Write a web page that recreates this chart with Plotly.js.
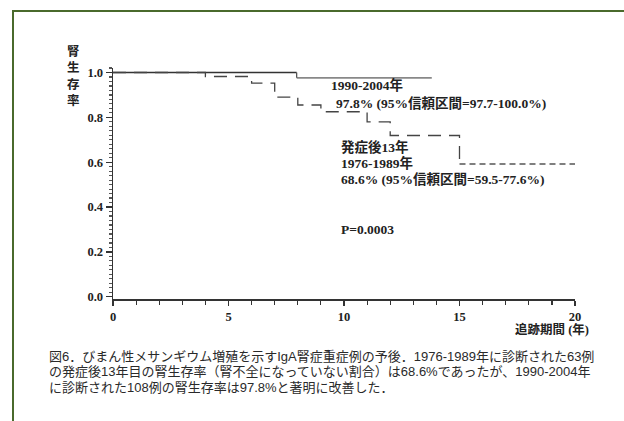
<!DOCTYPE html>
<html>
<head>
<meta charset="utf-8">
<script src="https://cdn.plot.ly/plotly-3.0.1.min.js"></script>
<style>
  html, body { margin: 0; padding: 0; background: #ffffff; }
  #wrap { position: relative; width: 624px; height: 421px; overflow: hidden; }
  #frame { position: absolute; left: 12px; top: 10px; width: 640px; height: 440px;
           border-top: 2px solid #4a6a2c; border-left: 2px solid #4a6a2c; box-sizing: border-box; }
  #chart { position: absolute; left: 0; top: 0; width: 624px; height: 421px; }
</style>
</head>
<body>
<div id="wrap">
  <div id="frame"></div>
  <div id="chart"></div>
</div>
<script>
// 1990-2004 cohort (solid)
const recentYears = [0, 7.95, 13.8];
const recentSurv  = [1.0, 0.976, 0.976];
// 1976-1989 cohort (dashed)
const earlyYears = [0, 4, 6, 7, 8, 9, 11, 12, 15, 20];
const earlySurv  = [1.0, 0.982, 0.953, 0.89, 0.855, 0.825, 0.78, 0.719, 0.592, 0.592];

const xTicks = [0, 5, 10, 15, 20];
const yTicks = [0, 0.2, 0.4, 0.6, 0.8, 1.0];
const yTickText = ['0.0', '0.2', '0.4', '0.6', '0.8', '1.0'];

const captionLines = [
  '図6．びまん性メサンギウム増殖を示すIgA腎症重症例の予後．1976-1989年に診断された63例',
  'の発症後13年目の腎生存率（腎不全になっていない割合）は68.6%であったが、1990-2004年',
  'に診断された108例の腎生存率は97.8%と著明に改善した．'
];

const serifCJK = 'Liberation Serif, Noto Sans CJK JP';
const sansCJK = 'Liberation Sans, Noto Sans CJK JP';

const nEarly = earlyYears.length;
const traces = [
  { x: recentYears.slice(0, 2), y: [recentSurv[0], recentSurv[0]], mode: 'lines', line: { color: '#333333', width: 1.3 }, hoverinfo: 'skip' },
  { x: recentYears.slice(1), y: recentSurv.slice(1), mode: 'lines', line: { shape: 'hv', color: '#888888', width: 1.8 }, hoverinfo: 'skip' },
  { x: recentYears.slice(1, 2).concat(recentYears.slice(1, 2)), y: recentSurv.slice(0, 2), mode: 'lines', line: { color: '#555555', width: 1.3 }, hoverinfo: 'skip' },
  { x: earlyYears.slice(0, nEarly - 1), y: earlySurv.slice(0, nEarly - 1), mode: 'lines',
    line: { shape: 'hv', color: '#444444', width: 1.3, dash: '13px,8px' }, hoverinfo: 'skip' },
  { x: earlyYears.slice(nEarly - 2), y: earlySurv.slice(nEarly - 2), mode: 'lines',
    line: { shape: 'hv', color: '#555555', width: 1.3, dash: '6px,4px' }, hoverinfo: 'skip' }
];

const tf = { family: serifCJK, size: 12.5, color: '#222222', weight: 'bold' };
const af = { family: serifCJK, size: 13.5, color: '#222222', weight: 'bold' };

const annotations = [
  { text: '1990-2004年', x: 9.35, y: 0.945, xanchor: 'left', yanchor: 'middle' },
  { text: '97.8% (95%信頼区間=97.7-100.0%)', x: 9.55, y: 0.864, xanchor: 'left', yanchor: 'middle' },
  { text: '発症後13年', x: 9.8, y: 0.67, xanchor: 'left', yanchor: 'middle' },
  { text: '1976-1989年', x: 9.8, y: 0.596, xanchor: 'left', yanchor: 'middle' },
  { text: '68.6% (95%信頼区間=59.5-77.6%)', x: 9.8, y: 0.526, xanchor: 'left', yanchor: 'middle' },
  { text: 'P=0.0003', x: 9.8, y: 0.30, xanchor: 'left', yanchor: 'middle' }
].map(a => Object.assign({ xref: 'x', yref: 'y', showarrow: false, font: af }, a));

annotations.push({
  text: '腎<br>生<br>存<br>率', xref: 'paper', yref: 'y', x: -0.086, y: 0.985,
  xanchor: 'center', yanchor: 'middle', showarrow: false,
  font: { family: serifCJK, size: 12.5, color: '#222222', weight: 'bold' }
});
annotations.push({
  text: '追跡期間 (年)', xref: 'x', yref: 'paper', x: 19.0, y: -0.134,
  xanchor: 'center', yanchor: 'middle', showarrow: false,
  font: { family: serifCJK, size: 12.5, color: '#222222', weight: 'bold' }
});
captionLines.forEach((line, i) => {
  annotations.push({
    text: line, xref: 'paper', yref: 'paper', x: -0.1425, y: -0.247 - i * 0.0671,
    xanchor: 'left', yanchor: 'middle', align: 'left', showarrow: false,
    font: { family: sansCJK, size: 13, color: '#2a2a2a' }
  });
});

const layout = {
  width: 624, height: 421,
  margin: { l: 113, r: 49, t: 68, b: 122 },
  paper_bgcolor: 'rgba(0,0,0,0)', plot_bgcolor: 'rgba(0,0,0,0)',
  showlegend: false,
  xaxis: {
    range: [0, 20], tickvals: xTicks, ticks: 'outside', ticklen: 5, tickwidth: 1.2, tickcolor: '#333',
    showline: true, linecolor: '#333', linewidth: 1.5, showgrid: false, zeroline: false,
    tickfont: tf,
    minor: { dtick: 1, ticks: 'outside', ticklen: 4, tickcolor: '#333', showgrid: false }
  },
  yaxis: {
    range: [-0.01, 1.02], tickvals: yTicks, ticktext: yTickText, ticks: 'outside', ticklen: 6, tickwidth: 1.2, tickcolor: '#333',
    showline: true, linecolor: '#333', linewidth: 1.5, showgrid: false, zeroline: false,
    tickfont: tf,
    minor: { dtick: 0.02, tick0: 0, ticks: 'outside', ticklen: 3, tickcolor: '#555', showgrid: false }
  },
  annotations: annotations
};

Plotly.newPlot('chart', traces, layout, { displayModeBar: false, staticPlot: true });
</script>
</body>
</html>
